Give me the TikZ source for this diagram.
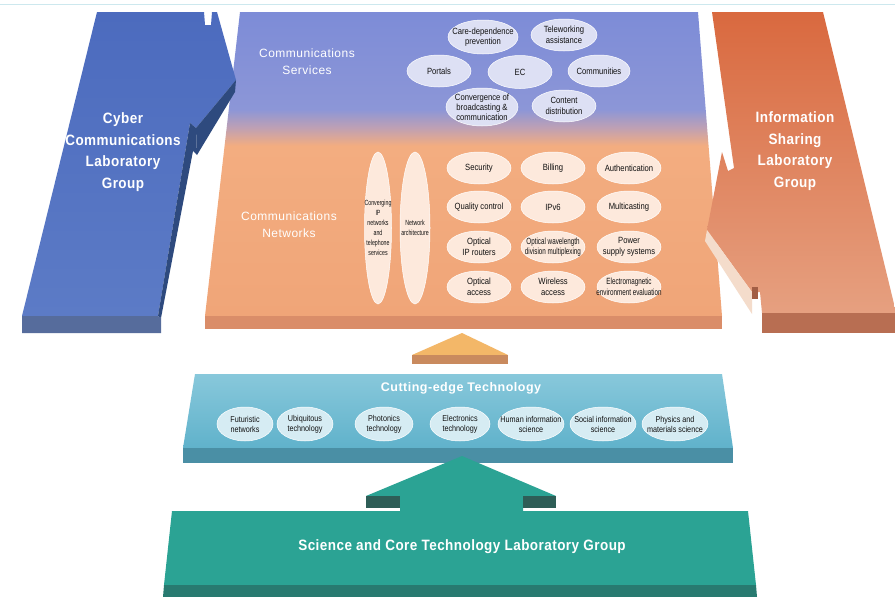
\documentclass[tikz,border=0pt]{standalone}
\usepackage{fontspec}
\setmainfont{Liberation Sans}
\newfontfamily\titlefont[FakeStretch=0.9,LetterSpace=3]{Liberation Sans}
\newfontfamily\headfont[LetterSpace=4]{Liberation Sans}
\newfontfamily\elfont[FakeStretch=0.85]{Liberation Sans}
\newfontfamily\elnarrow[FakeStretch=0.7]{Liberation Sans}
\usetikzlibrary{shapes.geometric}
\definecolor{panbluetop}{HTML}{7D8CD7}
\definecolor{panblue}{HTML}{8C96D7}
\definecolor{panmauve}{HTML}{BEA0B4}
\definecolor{panorange}{HTML}{F3AD80}
\definecolor{panorangebot}{HTML}{F0A578}
\definecolor{panfront}{HTML}{DA8D69}
\definecolor{leftblue}{HTML}{4C6BBE}
\definecolor{leftbluebot}{HTML}{5C7BC6}
\definecolor{leftdark}{HTML}{2E4A7E}
\definecolor{leftbottom}{HTML}{566C9C}
\definecolor{rtop}{HTML}{D9693F}
\definecolor{rbot}{HTML}{E6A080}
\definecolor{rside}{HTML}{F4DCCB}
\definecolor{rdark}{HTML}{A25E45}
\definecolor{rbottom}{HTML}{B86E52}
\definecolor{triyel}{HTML}{F3B768}
\definecolor{tribase}{HTML}{C98A5E}
\definecolor{cuttop}{HTML}{88C8DB}
\definecolor{cutbot}{HTML}{60B2CB}
\definecolor{cutfront}{HTML}{4A8FA5}
\definecolor{tealmain}{HTML}{2BA394}
\definecolor{tealdark}{HTML}{2E5E57}
\definecolor{tealfront}{HTML}{287A70}
\definecolor{svcfill}{HTML}{DDE0F4}
\definecolor{netfill}{HTML}{FDE9DC}
\definecolor{cutfill}{HTML}{D6ECF3}
\definecolor{topline}{HTML}{CDE8EE}
\definecolor{eltext}{HTML}{111111}
\pgfdeclareverticalshading{panelshade}{100bp}{color(0bp)=(panorangebot); color(25bp)=(panorangebot); color(53bp)=(panorange); color(56bp)=(panmauve); color(59bp)=(panblue); color(75bp)=(panbluetop); color(100bp)=(panbluetop)}
\tikzset{
  ellbase/.style={ellipse, draw=white, line width=0.5pt, inner sep=0pt},
  svcell/.style={ellbase, fill=svcfill, minimum width=64pt, minimum height=32pt},
  netell/.style={ellbase, fill=netfill, minimum width=64pt, minimum height=32pt},
  vertell/.style={ellbase, fill=netfill, minimum height=152pt},
  cutell/.style={ellbase, fill=cutfill, minimum height=34pt},
  lbl/.style={align=center, text=eltext, inner sep=0pt, font=\elfont\fontsize{9}{10.5}\selectfont},
  lblnarrow/.style={lbl, font=\elnarrow\fontsize{9}{10.5}\selectfont},
  lblcut/.style={align=center, text=eltext, inner sep=0pt, font=\elfont\fontsize{8.5}{10}\selectfont},
  lblvert/.style={align=center, text=eltext, inner sep=0pt, font=\elnarrow\fontsize{7.5}{10}\selectfont},
  grouptext/.style={align=center, text=white, inner sep=0pt, font=\titlefont\bfseries\fontsize{15}{21.5}\selectfont},
  headtext/.style={align=center, text=white, inner sep=0pt, font=\headfont\fontsize{12}{17}\selectfont},
}
\begin{document}
\begin{tikzpicture}[x=1pt,y=-1pt]
\useasboundingbox (0,0) rectangle (895,597);
\fill[white] (0,0) rectangle (895,597);
\draw[topline, line width=0.8pt] (0,4) -- (895,4);

% central panel
\shade[shading=panelshade] (240,12) -- (698,12) -- (722,316) -- (205,316) -- cycle;
\fill[panfront] (205,316) -- (722,316) -- (722,329) -- (205,329) -- cycle;

% left arrow (Cyber Communications)
\shade[top color=leftblue, bottom color=leftbluebot] (97,12) -- (204,12) -- (205,25) -- (211,25) -- (212,12) -- (217,12) -- (236,80) -- (196,128) -- (190,123) -- (158,316) -- (22,316) -- cycle;
\fill[leftdark] (236,80) -- (235,92) -- (197,155) -- (196,128) -- cycle;
\fill[leftdark] (190,123) -- (196,128) -- (197,155) -- (193,151) -- (161,318) -- (158,316) -- cycle;
\fill[leftbottom] (22,316) -- (158,316) -- (161,318) -- (161,333) -- (22,333) -- cycle;

% right arrow (Information Sharing)
\shade[top color=rtop, bottom color=rbot] (712,12) -- (823,12) -- (895,308) -- (895,313) -- (762,313) -- (760,292) -- (752,292) -- (707,230) -- (722,152) -- (728,171) -- (734,168) -- cycle;
\fill[rside] (707,230) -- (752,292) -- (752,314) -- (705,241) -- cycle;
\fill[rdark] (752,287) -- (758,287) -- (758,299) -- (752,299) -- cycle;
\fill[rbottom] (762,313) -- (895,313) -- (895,333) -- (762,333) -- cycle;

% small triangle
\fill[triyel] (412,355) -- (462,333) -- (508,355) -- cycle;
\fill[tribase] (412,355) -- (508,355) -- (508,364) -- (412,364) -- cycle;

% cutting-edge panel
\shade[top color=cuttop, bottom color=cutbot] (195,374) -- (722,374) -- (733,448) -- (183,448) -- cycle;
\fill[cutfront] (183,448) -- (733,448) -- (733,463) -- (183,463) -- cycle;

% bottom teal arrow
\fill[tealmain] (366,496) -- (462,456) -- (556,496) -- (523,496) -- (523,511) -- (748,511) -- (756,585) -- (164,585) -- (172,511) -- (400,511) -- (400,496) -- cycle;
\fill[tealdark] (366,496) -- (400,496) -- (400,508) -- (366,508) -- cycle;
\fill[tealdark] (523,496) -- (556,496) -- (556,508) -- (523,508) -- cycle;
\fill[tealfront] (164,585) -- (756,585) -- (757,597) -- (163,597) -- cycle;

% group labels
\node[grouptext] (cyber) at (123,152) {Cyber\\Communications\\Laboratory\\Group};
\node[grouptext] (info) at (795,151) {Information\\Sharing\\Laboratory\\Group};
\node[grouptext] (science) at (462,547) {Science and Core Technology Laboratory Group};
\node[headtext] (services) at (307,62) {Communications\\Services};
\node[headtext] (networks) at (289,225) {Communications\\Networks};
\node[align=center, text=white, inner sep=0pt, font=\headfont\bfseries\fontsize{12.5}{15}\selectfont] (cutting) at (461,388) {Cutting-edge Technology};

% services ellipses
\node[svcell, minimum width=70pt, minimum height=34pt] (care) at (483,37) {};
\node[lbl] at (care) {Care-dependence\\prevention};
\node[svcell, minimum width=66pt] (tele) at (564,35) {};
\node[lbl] at (tele) {Teleworking\\assistance};
\node[svcell] (portals) at (439,71) {};
\node[lbl] at (portals) {Portals};
\node[svcell, minimum height=33pt] (ec) at (520,72) {};
\node[lbl] at (ec) {EC};
\node[svcell, minimum width=62pt] (communities) at (599,71) {};
\node[lbl] at (communities) {Communities};
\node[svcell, minimum width=72pt, minimum height=38pt] (conv) at (482,107) {};
\node[lbl, font=\elfont\fontsize{9}{10}\selectfont] at (conv) {Convergence of\\broadcasting \&\\communication};
\node[svcell] (content) at (564,106) {};
\node[lbl] at (content) {Content\\distribution};

% network ellipses
\node[vertell, minimum width=27pt] (voip) at (378,228) {};
\node[lblvert] at (voip) {Converging\\IP\\networks\\and\\telephone\\services};
\node[vertell, minimum width=30pt] (arch) at (415,228) {};
\node[lblvert] at (arch) {Network\\architecture};
\node[netell] (security) at (479,168) {};
\node[lbl] at (security) {Security};
\node[netell] (billing) at (553,168) {};
\node[lbl] at (billing) {Billing};
\node[netell] (auth) at (629,168) {};
\node[lbl] at (auth) {Authentication};
\node[netell] (qc) at (479,207) {};
\node[lbl] at (qc) {Quality control};
\node[netell] (ipv6) at (553,207) {};
\node[lbl] at (ipv6) {IPv6};
\node[netell] (multi) at (629,207) {};
\node[lbl] at (multi) {Multicasting};
\node[netell] (oiprouter) at (479,247) {};
\node[lbl] at (oiprouter) {Optical\\IP routers};
\node[netell] (wdm) at (553,247) {};
\node[lblnarrow] at (wdm) {Optical wavelength\\division multiplexing};
\node[netell] (power) at (629,247) {};
\node[lbl] at (power) {Power\\supply systems};
\node[netell] (oaccess) at (479,287) {};
\node[lbl] at (oaccess) {Optical\\access};
\node[netell] (waccess) at (553,287) {};
\node[lbl] at (waccess) {Wireless\\access};
\node[netell] (emc) at (629,287) {};
\node[lblnarrow] at (emc) {Electromagnetic\\environment evaluation};

% cutting-edge ellipses
\node[cutell, minimum width=56pt] (futur) at (245,424) {};
\node[lblcut] at (futur) {Futuristic\\networks};
\node[cutell, minimum width=56pt] (ubiq) at (305,424) {};
\node[lblcut] at (ubiq) {Ubiquitous\\technology};
\node[cutell, minimum width=58pt] (photon) at (384,424) {};
\node[lblcut] at (photon) {Photonics\\technology};
\node[cutell, minimum width=60pt] (electr) at (460,424) {};
\node[lblcut] at (electr) {Electronics\\technology};
\node[cutell, minimum width=66pt] (human) at (531,424) {};
\node[lblcut] at (human) {Human information\\science};
\node[cutell, minimum width=66pt] (social) at (603,424) {};
\node[lblcut] at (social) {Social information\\science};
\node[cutell, minimum width=66pt] (physics) at (675,424) {};
\node[lblcut] at (physics) {Physics and\\materials science};
\end{tikzpicture}
\end{document}
